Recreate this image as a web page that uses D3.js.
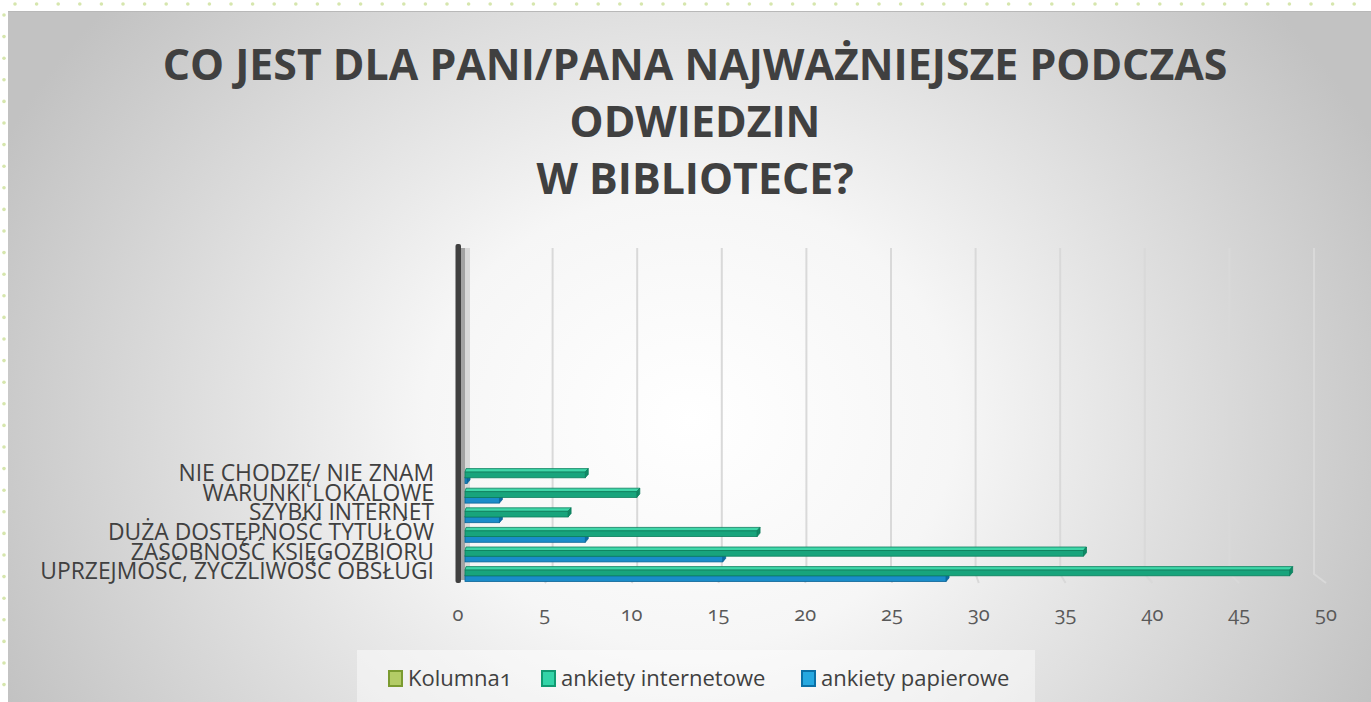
<!DOCTYPE html>
<html>
<head>
<meta charset="utf-8">
<style>
body { margin: 0; background: #fff; }
svg { display: block; }
text { font-family: "Open Sans", "Noto Sans", sans-serif; }
.onum { font-variant-numeric: oldstyle-nums; font-feature-settings: "onum"; }
</style>
</head>
<body>
<svg width="1371" height="702"></svg>
<script src="https://d3js.org/d3.v7.min.js"></script>
<script>
// data (bottom category first, as drawn)
var categories = ["UPRZEJMOŚĆ, ŻYCZLIWOŚĆ OBSŁUGI", "ZASOBNOŚĆ KSIĘGOZBIORU", "DUŻA DOSTĘPNOŚĆ TYTUŁÓW",
                  "SZYBKI INTERNET", "WARUNKI LOKALOWE", "NIE CHODZĘ/ NIE ZNAM"];
var kolumna1 = [0, 0, 0, 0, 0, 0];
var internetowe = [48, 36, 17, 6, 10, 7];
var papierowe = [28, 15, 7, 2, 2, 0];
var seriesNames = ["Kolumna1", "ankiety internetowe", "ankiety papierowe"];
var xTicks = [0, 5, 10, 15, 20, 25, 30, 35, 40, 45, 50];
var titleLines = ["CO JEST DLA PANI/PANA NAJWAŻNIEJSZE PODCZAS", "ODWIEDZIN", "W BIBLIOTECE?"];

var svg = d3.select("svg"),
    width = +svg.attr("width"),
    height = +svg.attr("height");

var defs = svg.append("defs");
var bg = defs.append("radialGradient").attr("id", "bg")
    .attr("gradientUnits", "userSpaceOnUse")
    .attr("cx", 690).attr("cy", 420).attr("r", 760)
    .attr("gradientTransform", "translate(690,420) scale(1,0.85) translate(-690,-420)");
bg.append("stop").attr("offset", "0").attr("stop-color", "#ffffff");
bg.append("stop").attr("offset", "0.35").attr("stop-color", "#f6f6f6");
bg.append("stop").attr("offset", "1").attr("stop-color", "#c2c2c2");

// page decoration dots
svg.append("g").selectAll("circle").data(d3.range(15, width, 21.6)).enter().append("circle")
    .attr("cx", function(d) { return d; }).attr("cy", 4).attr("r", 1.8).attr("fill", "#d6e6ad");
svg.append("g").selectAll("circle").data(d3.range(15, height, 21.6)).enter().append("circle")
    .attr("cx", 4).attr("cy", function(d) { return d; }).attr("r", 1.8).attr("fill", "#d6e6ad");

// chart area
svg.append("rect").attr("x", 8).attr("y", 11).attr("width", width - 8).attr("height", height - 11)
    .attr("fill", "url(#bg)");
svg.append("line").attr("x1", 8).attr("x2", width).attr("y1", 11.5).attr("y2", 11.5)
    .attr("stroke", "#b8b8b8").attr("stroke-width", 1);

// title
var title = svg.append("g");
var baselines = [80, 137, 194];
title.selectAll("text").data(titleLines).enter().append("text")
    .attr("x", 695).attr("y", function(d, i) { return baselines[i]; })
    .attr("text-anchor", "middle")
    .attr("font-size", 45).attr("font-weight", 700)
    .attr("fill", "#404040")
    .text(function(d) { return d; });
// fit first line to the reference width
var t0 = title.select("text").node().getComputedTextLength();
title.selectAll("text").attr("font-size", 45 * 1065 / t0);

// scales
var plotTop = 248, plotBottom = 583;
var xBack = d3.scaleLinear().domain([0, 50]).range([468, 1314]);
var xFront = d3.scaleLinear().domain([0, 50]).range([458, 1326]);
var xBar = d3.scaleLinear().domain([0, 50]).range([465, 1324]);
var step = 19.6;
var y = d3.scaleBand().domain(categories.slice().reverse())
    .range([583 - step * categories.length, 583]).paddingInner(0).paddingOuter(0);
var ySub = d3.scaleBand().domain(seriesNames).range([1, step - 1.5]);

// left wall shading
svg.append("rect").attr("x", 461).attr("y", plotTop).attr("width", 4).attr("height", plotBottom - plotTop - 3)
    .attr("fill", "#a3a3a3");
svg.append("rect").attr("x", 465).attr("y", plotTop).attr("width", 5).attr("height", plotBottom - plotTop - 5)
    .attr("fill", "#d9d9d9");

// gridlines (back wall + floor kink to front)
svg.append("g").selectAll("path").data(xTicks.slice(1)).enter().append("path")
    .attr("d", function(d) {
      return "M" + xBack(d) + "," + plotTop + "V" + (plotBottom - 9) +
             "L" + xFront(d) + "," + plotBottom;
    })
    .attr("fill", "none").attr("stroke", "#d9d9d9").attr("stroke-width", 2);

// x tick labels
svg.append("g").selectAll("text").data(xTicks).enter().append("text")
    .attr("class", "onum")
    .attr("x", function(d) { return xFront(d); }).attr("y", 621)
    .attr("text-anchor", "middle").attr("font-size", 20).attr("fill", "#595959")
    .text(function(d) { return d; });

// bars
var styles = {
  "ankiety internetowe": { front: "#18a47c", top: "#3fd6a8", side: "#0f8a66", stroke: "#0d7f5d" },
  "ankiety papierowe": { front: "#1a8cc9", top: "#35aee6", side: "#0d6da3", stroke: "#0a6497" }
};
var depth = 3.5;
function drawSeries(name, values) {
  var st = styles[name];
  var g = svg.append("g");
  categories.forEach(function(c, i) {
    var y0 = y(c) + ySub(name), h = ySub.bandwidth();
    var x0 = xBar(0), x1 = Math.max(xBar(values[i]), x0 + 2);
    // top face
    g.append("path")
      .attr("d", "M" + x0 + "," + y0 + "L" + (x0 + 1) + "," + (y0 - depth) + "L" + (x1 + 3) + "," + (y0 - depth) +
                 "L" + x1 + "," + y0 + "Z")
      .attr("fill", st.top).attr("stroke", st.stroke).attr("stroke-width", 0.8);
    // side face
    g.append("path")
      .attr("d", "M" + x1 + "," + y0 + "L" + (x1 + 3) + "," + (y0 - depth) + "L" + (x1 + 3) + "," + (y0 + h - depth) +
                 "L" + x1 + "," + (y0 + h) + "Z")
      .attr("fill", st.side).attr("stroke", st.stroke).attr("stroke-width", 0.8);
    // front face
    g.append("rect").attr("x", x0).attr("y", y0).attr("width", x1 - x0).attr("height", h)
      .attr("fill", st.front).attr("stroke", st.stroke).attr("stroke-width", 0.8);
  });
}
drawSeries("ankiety papierowe", papierowe);
drawSeries("ankiety internetowe", internetowe);

// category axis line
svg.append("rect").attr("x", 455.5).attr("y", 244).attr("width", 5.5).attr("height", 339)
    .attr("rx", 2).attr("fill", "#404040");

// category labels
var labels = svg.append("g").selectAll("text").data(categories).enter().append("text")
    .attr("x", 434).attr("y", function(d) { return y(d) + step / 2 + 6; })
    .attr("text-anchor", "end").attr("font-size", 17).attr("fill", "#404040")
    .text(function(d) { return d; });
var lw = labels.filter(function(d, i) { return i === 0; }).node().getComputedTextLength();
labels.attr("font-size", 17 * 394 / lw);

// legend
var legend = svg.append("g");
legend.append("rect").attr("x", 357).attr("y", 650).attr("width", 678).attr("height", 52)
    .attr("fill", "#ffffff").attr("opacity", 0.45);
var legendColors = [["#b3cc66", "#7b9b30"], ["#33d4a8", "#119a72"], ["#26a8e0", "#0b70a6"]];
var legendX = [389, 542, 802];
var items = legend.selectAll("g").data(seriesNames).enter().append("g")
    .attr("transform", function(d, i) { return "translate(" + legendX[i] + ",671)"; });
items.append("rect").attr("width", 13).attr("height", 15)
    .attr("fill", function(d, i) { return legendColors[i][0]; })
    .attr("stroke", function(d, i) { return legendColors[i][1]; }).attr("stroke-width", 2);
items.append("text").attr("x", 19).attr("y", 15).attr("font-size", 22).attr("fill", "#404040")
    .attr("class", "onum")
    .text(function(d) { return d; });
</script>
</body>
</html>
